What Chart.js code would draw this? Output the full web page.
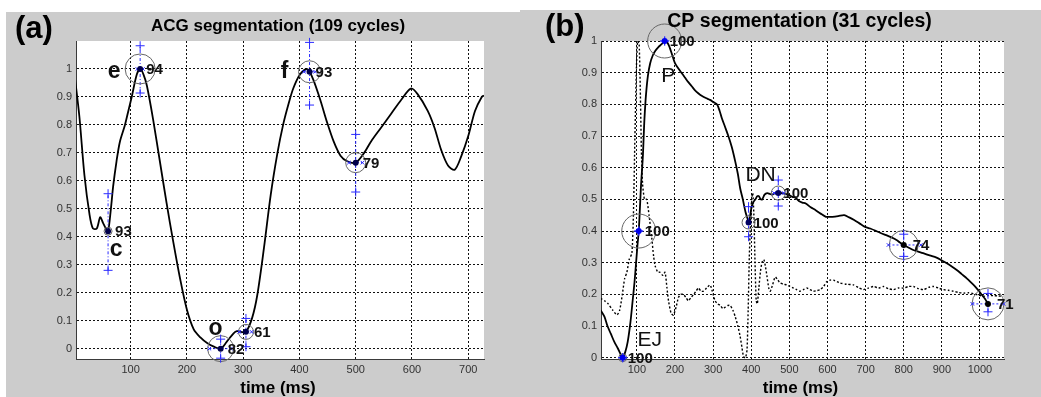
<!DOCTYPE html>
<html>
<head>
<meta charset="utf-8">
<script src="https://cdn.jsdelivr.net/npm/chart.js@4.4.1/dist/chart.umd.min.js"></script>
<style>
  html, body { margin: 0; padding: 0; background: #fff; }
  #wrap { position: relative; width: 1041px; height: 397px; overflow: hidden; }
  .bg { position: absolute; background: #cccccc; }
  #bgA { left: 6px; top: 12px; width: 514px; height: 385px; }
  #bgB { left: 520px; top: 10px; width: 521px; height: 387px; }
  canvas { position: absolute; top: 0; }
  #acgChart { left: 6px; }
  #cpChart { left: 520px; }
</style>
</head>
<body>
<div id="wrap">
  <div class="bg" id="bgA"></div>
  <div class="bg" id="bgB"></div>
  <canvas id="acgChart" width="514" height="397"></canvas>
  <canvas id="cpChart" width="521" height="397"></canvas>
</div>
<script>
// ---- ACG trace, one averaged cycle ----
const acgTime  = [1, 9, 18, 27, 33, 40, 46, 51, 56, 60, 65, 69, 75, 81, 90, 96, 102, 111, 117, 123,
                  129, 140, 152, 164, 176, 188, 200, 212, 224, 236, 248, 260, 271, 283, 289, 296, 305, 316, 325, 337,
                  349, 361, 371, 380, 389, 401, 413, 418, 425, 437, 449, 461, 473, 485, 500, 515, 527, 545, 563, 581,
                  598, 610, 628, 640, 652, 664, 676, 688, 700, 712, 724, 728];
const acgValue = [0.97, 0.83, 0.62, 0.48, 0.43, 0.43, 0.47, 0.45, 0.43, 0.42, 0.50, 0.58, 0.67, 0.74, 0.80, 0.85, 0.90, 0.98, 1.00, 0.98,
                  0.94, 0.82, 0.67, 0.52, 0.38, 0.25, 0.14, 0.07, 0.04, 0.02, 0.007, 0.0, 0.025, 0.055, 0.063, 0.06, 0.06, 0.11, 0.19, 0.36,
                  0.55, 0.70, 0.80, 0.87, 0.93, 0.98, 1.00, 0.99, 0.96, 0.89, 0.81, 0.74, 0.69, 0.67, 0.665, 0.70, 0.74, 0.79, 0.84, 0.89,
                  0.93, 0.91, 0.85, 0.79, 0.71, 0.655, 0.64, 0.69, 0.76, 0.85, 0.90, 0.905];
const acgXTicks = [100, 200, 300, 400, 500, 600, 700];
const acgYTicks = [0, 0.1, 0.2, 0.3, 0.4, 0.5, 0.6, 0.7, 0.8, 0.9, 1];

// ACG fiducial points: c, e, o, (o2), f, (a2)
const acgMarkTime  = [60, 117, 260, 305, 418, 500];
const acgMarkValue = [0.42, 1.0, 0.0, 0.06, 0.99, 0.665];
const acgMarkHigh  = [0.554, 1.083, 0.034, 0.108, 1.095, 0.766];
const acgMarkLow   = [0.28, 0.914, -0.034, 0.007, 0.871, 0.56];
const acgMarkEarly = [60, 112, 240, 293, 408, 488];
const acgMarkLate  = [60, 122, 278, 315, 428, 512];
const acgMarkPct   = ['93', '94', '82', '61', '93', '79'];
const acgMarkName  = ['c', 'e', 'o', '', 'f', ''];

// ---- CP trace (solid) and its derivative (dotted) ----
const cpTime  = [5, 15, 23, 32, 41, 50, 57, 63, 70, 76, 83, 89, 94, 98, 102, 105, 108, 111, 114, 116,
                 118, 120, 124, 129, 135, 142, 149, 156, 165, 173, 180, 186, 193, 200, 208, 217, 226, 235, 244, 252,
                 261, 270, 281, 292, 301, 310, 317, 323, 331, 340, 349, 358, 365, 371, 378, 385, 390, 393, 396, 400,
                 405, 411, 416, 420, 425, 429, 435, 442, 449, 455, 463, 471, 480, 490, 499, 508, 516, 525, 534, 543,
                 556, 569, 582, 596, 605, 613, 628, 644, 657, 670, 683, 697, 712, 728, 741, 754, 768, 781, 790, 800,
                 812, 825, 838, 851, 868, 886, 900, 913, 926, 939, 952, 966, 977, 988, 997, 1005, 1013, 1021];
const cpValue = [0.15, 0.13, 0.10, 0.075, 0.05, 0.03, 0.012, 0.0, 0.02, 0.05, 0.11, 0.18, 0.24, 0.30, 0.36, 0.40, 0.47, 0.545, 0.60, 0.64,
                 0.70, 0.755, 0.83, 0.89, 0.93, 0.955, 0.97, 0.98, 0.99, 1.0, 0.995, 0.98, 0.955, 0.93, 0.915, 0.90, 0.885, 0.87, 0.857, 0.845,
                 0.835, 0.827, 0.82, 0.814, 0.807, 0.80, 0.78, 0.756, 0.73, 0.70, 0.665, 0.62, 0.58, 0.535, 0.50, 0.46, 0.44, 0.427, 0.44, 0.47,
                 0.49, 0.50, 0.51, 0.51, 0.50, 0.50, 0.515, 0.52, 0.517, 0.515, 0.52, 0.52, 0.52, 0.517, 0.514, 0.508, 0.505, 0.495, 0.49, 0.487,
                 0.475, 0.466, 0.455, 0.445, 0.445, 0.445, 0.447, 0.45, 0.443, 0.435, 0.425, 0.414, 0.408, 0.40, 0.393, 0.387, 0.38, 0.372, 0.364, 0.356,
                 0.348, 0.34, 0.335, 0.33, 0.323, 0.316, 0.307, 0.298, 0.288, 0.277, 0.264, 0.25, 0.237, 0.224, 0.211, 0.198, 0.186, 0.17];
const cpDotTime  = [5, 15, 25, 37, 48, 55, 62, 68, 74, 80, 87, 91, 95, 99, 102, 106, 109, 112, 115, 120,
                    126, 132, 139, 144, 148, 155, 161, 168, 174, 179, 183, 190, 196, 203, 209, 215, 222, 229, 235, 242,
                    249, 255, 262, 268, 275, 283, 292, 298, 305, 312, 319, 326, 332, 339, 345, 352, 358, 365, 371, 376,
                    380, 385, 389, 392, 395, 398, 401, 404, 407, 410, 413, 416, 420, 424, 428, 433, 437, 441, 446, 450,
                    456, 463, 470, 476, 485, 493, 502, 511, 519, 528, 537, 546, 554, 563, 572, 581, 590, 598, 607, 616,
                    625, 633, 650, 668, 681, 694, 707, 721, 734, 747, 760, 773, 786, 800, 813, 826, 839, 852, 865, 878,
                    891, 904, 917, 930, 944, 957, 970, 983, 996, 1009, 1022, 1035, 1048, 1061];
const cpDotValue = [0.187, 0.18, 0.17, 0.15, 0.135, 0.15, 0.20, 0.25, 0.27, 0.31, 0.33, 0.45, 0.70, 0.92, 1.0, 0.99, 0.85, 0.65, 0.55, 0.50,
                    0.50, 0.45, 0.38, 0.32, 0.29, 0.27, 0.27, 0.26, 0.27, 0.22, 0.18, 0.14, 0.135, 0.16, 0.19, 0.20, 0.20, 0.19, 0.18, 0.19,
                    0.20, 0.21, 0.22, 0.21, 0.21, 0.22, 0.23, 0.21, 0.18, 0.17, 0.165, 0.155, 0.16, 0.165, 0.165, 0.15, 0.13, 0.10, 0.067, 0.03,
                    0.003, 0.0, 0.025, 0.15, 0.32, 0.42, 0.50, 0.52, 0.45, 0.30, 0.18, 0.17, 0.22, 0.27, 0.30, 0.31, 0.29, 0.26, 0.22, 0.21,
                    0.23, 0.255, 0.245, 0.236, 0.232, 0.23, 0.225, 0.22, 0.215, 0.21, 0.215, 0.22, 0.215, 0.21, 0.212, 0.215, 0.225, 0.24, 0.245, 0.245,
                    0.24, 0.236, 0.232, 0.23, 0.222, 0.215, 0.22, 0.225, 0.22, 0.225, 0.218, 0.215, 0.22, 0.22, 0.225, 0.225, 0.218, 0.215, 0.222, 0.225,
                    0.22, 0.215, 0.213, 0.21, 0.206, 0.204, 0.205, 0.202, 0.198, 0.194, 0.196, 0.196, 0.195, 0.194];
const cpXTicks = [100, 200, 300, 400, 500, 600, 700, 800, 900, 1000];
const cpYTicks = [0, 0.1, 0.2, 0.3, 0.4, 0.5, 0.6, 0.7, 0.8, 0.9, 1];

// CP fiducial points: EJ, upstroke, P, DN, (DN peak), (late), (end)
const cpMarkTime  = [63, 105, 173, 393, 471, 800, 1021];
const cpMarkValue = [0.0, 0.40, 1.0, 0.427, 0.52, 0.356, 0.17];
const cpMarkHigh  = [0.0, 0.40, 1.0, 0.477, 0.561, 0.39, 0.203];
const cpMarkLow   = [0.0, 0.40, 1.0, 0.382, 0.479, 0.32, 0.145];
const cpMarkEarly = [63, 105, 173, 393, 460, 760, 980];
const cpMarkLate  = [63, 105, 173, 393, 485, 845, 1062];
const cpMarkPct   = ['100', '100', '100', '100', '100', '74', '71'];
const cpMarkName  = ['EJ', '', 'P', 'DN', '', '', ''];

const FONT = '"Liberation Sans", Arial, Helvetica, sans-serif';

function pts(xs, ys) {
  return xs.map((x, i) => ({ x: x, y: ys[i] }));
}

// pairs of points separated by null so each pair is its own short line
function segs(x1, y1, x2, y2) {
  const out = [];
  for (let i = 0; i < x1.length; i++) {
    if (x1[i] === x2[i] && y1[i] === y2[i]) continue;
    out.push({ x: x1[i], y: y1[i] }, { x: x2[i], y: y2[i] }, { x: x1[i], y: null });
  }
  return out;
}

// draws white plot area, titles, axis label and the point annotations
const panelText = {
  id: 'panelText',
  beforeDraw(chart) {
    const { ctx, chartArea: a } = chart;
    ctx.save();
    ctx.fillStyle = '#ffffff';
    ctx.fillRect(a.left, a.top, a.right - a.left, a.bottom - a.top);
    ctx.restore();
  },
  afterDraw(chart, args, o) {
    const { ctx, chartArea: a } = chart;
    const x = chart.scales.x, y = chart.scales.y;
    const mid = (a.left + a.right) / 2;
    ctx.save();
    ctx.fillStyle = '#000';
    ctx.textBaseline = 'middle';

    ctx.font = 'bold 31px ' + FONT;
    ctx.textAlign = 'left';
    ctx.fillText(o.tag, o.tagX, o.tagY);

    ctx.font = 'bold ' + o.titleSize + 'px ' + FONT;
    ctx.textAlign = 'center';
    ctx.fillText(o.title, mid + o.titleDx, o.titleY);

    ctx.font = 'bold 17px ' + FONT;
    ctx.fillText('time (ms)', mid - 2, 388);

    o.times.forEach((t, i) => {
      const px = x.getPixelForValue(t);
      const py = y.getPixelForValue(o.values[i]);
      ctx.fillStyle = '#111';
      ctx.font = 'bold 15px ' + FONT;
      ctx.textAlign = 'left';
      ctx.fillText(o.pct[i], px + o.pctDx[i], py + 1);
      if (o.names[i]) {
        ctx.font = o.nameFont;
        ctx.textAlign = 'center';
        ctx.fillText(o.names[i], px + o.nameDx[i], py + o.nameDy[i]);
      }
    });
    ctx.restore();
  }
};

function axis(min, max, ticks, fit, fmt) {
  return {
    type: 'linear',
    min: min,
    max: max,
    afterBuildTicks: s => { s.ticks = ticks.map(v => ({ value: v })); },
    afterFit: fit,
    grid: { color: '#111', lineWidth: 1, drawTicks: false },
    border: { display: true, color: '#3a3a3a', width: 1, dash: [2, 2] },
    ticks: { color: '#333', padding: 4, font: { family: FONT, size: 11 }, callback: fmt }
  };
}

function buildChart(id, d, o) {
  const blue = '#2b2bff';
  return new Chart(document.getElementById(id), {
    type: 'line',
    data: {
      datasets: [
        { // centre dots
          data: pts(d.markTime, d.markValue), showLine: false, clip: false,
          pointStyle: 'circle', pointRadius: 3, pointBorderWidth: 0,
          pointBackgroundColor: o.dotColors
        },
        { // detected spread, vertical
          data: pts(d.markTime, d.markHigh).concat(pts(d.markTime, d.markLow)),
          showLine: false, clip: false,
          pointStyle: 'cross', pointRadius: 4.5, pointBorderWidth: 1, pointBorderColor: blue
        },
        { // detected spread, horizontal
          data: pts(d.markEarly, d.markValue).concat(pts(d.markLate, d.markValue)),
          showLine: false, clip: false,
          pointStyle: 'crossRot', pointRadius: 2.5, pointBorderWidth: 1, pointBorderColor: blue
        },
        { // agreement circles
          data: pts(d.markTime, d.markValue), showLine: false, clip: false,
          pointStyle: 'circle', pointRadius: o.circleRadius, pointBorderWidth: 1,
          pointBorderColor: '#666', pointBackgroundColor: 'rgba(0,0,0,0)'
        },
        { // vertical spread line
          data: segs(d.markTime, d.markLow, d.markTime, d.markHigh),
          borderColor: blue, borderWidth: 1, borderDash: [3, 2, 1, 2],
          pointRadius: 0, spanGaps: false, clip: false
        },
        { // horizontal spread line
          data: segs(d.markEarly, d.markValue, d.markLate, d.markValue),
          borderColor: blue, borderWidth: 1, borderDash: [2, 2],
          pointRadius: 0, spanGaps: false, clip: false
        },
        { // main trace
          data: pts(d.time, d.value), borderColor: '#000', borderWidth: 1.8,
          pointRadius: 0, tension: 0.3
        }
      ].concat(d.dotTime ? [{ // derivative trace
          data: pts(d.dotTime, d.dotValue), borderColor: '#000', borderWidth: 1.4,
          borderDash: [2, 2], pointRadius: 0, tension: 0.2
        }] : [])
    },
    options: {
      responsive: false,
      animation: false,
      events: [],
      layout: { padding: { left: 0, top: 41, right: o.padRight, bottom: 0 } },
      plugins: { legend: { display: false }, tooltip: { enabled: false }, panelText: o.text },
      scales: {
        x: axis(o.xMin, o.xMax, d.xTicks, s => { s.height = 38; }, v => String(v)),
        y: axis(o.yMin, o.yMax, d.yTicks, s => { s.width = o.yWidth; }, v => String(+v.toFixed(1)))
      }
    },
    plugins: [panelText]
  });
}

buildChart('acgChart', {
  time: acgTime, value: acgValue, xTicks: acgXTicks, yTicks: acgYTicks,
  markTime: acgMarkTime, markValue: acgMarkValue, markHigh: acgMarkHigh, markLow: acgMarkLow,
  markEarly: acgMarkEarly, markLate: acgMarkLate
}, {
  xMin: 3, xMax: 728, yMin: -0.037, yMax: 1.1, yWidth: 70, padRight: 36,
  dotColors: '#00004a',
  circleRadius: [4, 15, 13, 7.5, 11, 10],
  text: {
    tag: '(a)', tagX: 9, tagY: 29,
    title: 'ACG segmentation (109 cycles)', titleSize: 17, titleDx: -2, titleY: 26,
    times: acgMarkTime, values: acgMarkValue, pct: acgMarkPct, names: acgMarkName,
    pctDx: [7, 6, 7, 8, 6, 7],
    nameFont: 'bold 23px ' + FONT,
    nameDx: [8, -26, -5, 0, -25, 0],
    nameDy: [18, 3, -20, 0, 0, 0]
  }
});

buildChart('cpChart', {
  time: cpTime, value: cpValue, dotTime: cpDotTime, dotValue: cpDotValue,
  xTicks: cpXTicks, yTicks: cpYTicks,
  markTime: cpMarkTime, markValue: cpMarkValue, markHigh: cpMarkHigh, markLow: cpMarkLow,
  markEarly: cpMarkEarly, markLate: cpMarkLate
}, {
  xMin: 6, xMax: 1063, yMin: -0.004, yMax: 1, yWidth: 81, padRight: 37,
  dotColors: ['#0000ee', '#0000ee', '#0000ee', '#000060', '#000060', '#000000', '#000000'],
  circleRadius: [4, 17, 17, 6.5, 7, 14.5, 16],
  text: {
    tag: '(b)', tagX: 25, tagY: 27,
    title: 'CP segmentation (31 cycles)', titleSize: 19.5, titleDx: -3, titleY: 22,
    times: cpMarkTime, values: cpMarkValue, pct: cpMarkPct, names: cpMarkName,
    pctDx: [5, 6, 5, 5, 5, 9, 9],
    nameFont: '21px ' + FONT,
    nameDx: [27, 0, 3.5, 12, 0, 0, 0],
    nameDy: [-18, 0, 35, -47, 0, 0, 0]
  }
});
</script>
</body>
</html>
